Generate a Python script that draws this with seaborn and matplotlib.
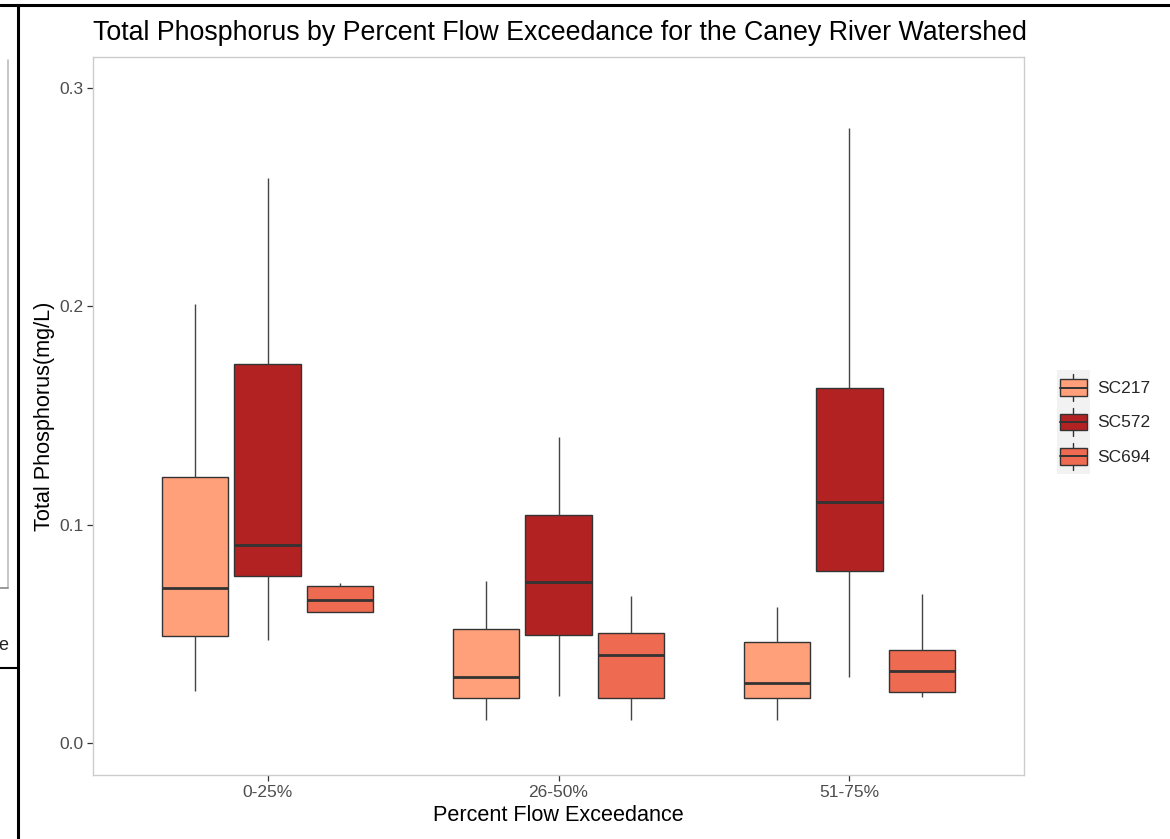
import numpy as np
import pandas as pd
import matplotlib
matplotlib.use('Agg')
import matplotlib.pyplot as plt
import seaborn as sns
from matplotlib.lines import Line2D
from matplotlib.patches import Rectangle, Patch
from matplotlib.legend_handler import HandlerBase

# Categories
flow_classes = ['0-25%', '26-50%', '51-75%']
sites = ['SC217', 'SC572', 'SC694']

# Five-number summaries (whisker low, Q1, median, Q3, whisker high) per flow class
sc217 = [[0.024, 0.049, 0.071, 0.122, 0.201],
         [0.0105, 0.0206, 0.0302, 0.0522, 0.0742],
         [0.0105, 0.0206, 0.0275, 0.0463, 0.0623]]
sc572 = [[0.047, 0.0765, 0.0907, 0.1736, 0.2588],
         [0.0215, 0.0495, 0.0738, 0.1044, 0.1402],
         [0.0302, 0.0788, 0.1104, 0.1626, 0.2817]]
sc694 = [[0.0600, 0.0600, 0.0655, 0.0719, 0.0733],
         [0.0105, 0.0206, 0.0403, 0.0504, 0.0673],
         [0.0210, 0.0234, 0.0330, 0.0426, 0.0683]]

site_colors = ['#FFA07A', '#B22222', '#EE6A50']

# build long-form table
rows = []
for site, vals in zip(sites, [sc217, sc572, sc694]):
    for flow, summary in zip(flow_classes, vals):
        for v in summary:
            rows.append({'Flow': flow, 'Site': site, 'TP': v})
df = pd.DataFrame(rows)

sns.set_style('white')
plt.rcParams['font.family'] = ['Liberation Sans', 'DejaVu Sans']

W, H = 1170, 839
fig = plt.figure(figsize=(W / 100, H / 100), dpi=100)
ax = fig.add_axes([93 / W, 1 - 775 / H, (1024 - 93) / W, (775 - 57) / H])

line_col = '#333333'
sns.boxplot(data=df, x='Flow', y='TP', hue='Site', order=flow_classes, hue_order=sites,
            palette=site_colors, whis=(0, 100), width=0.75, gap=0.09, showcaps=False,
            linecolor=line_col, linewidth=1.0, saturation=1,
            medianprops={'linewidth': 2.0, 'color': line_col},
            whiskerprops={'color': '#444444', 'linewidth': 1.0},
            legend=False, ax=ax)

ax.set_xlim(-0.6, 2.6)
ax.set_ylim(-0.0147, 0.3143)
ax.set_yticks([0.0, 0.1, 0.2, 0.3])
ax.set_yticklabels(['0.0', '0.1', '0.2', '0.3'])
ax.grid(False)
for s in ax.spines.values():
    s.set_color('#CCCCCC')
    s.set_linewidth(1.0)
ax.tick_params(axis='both', which='major', length=4, width=0.9, color='#333333',
               labelcolor='#4D4D4D', labelsize=12.5, pad=3, left=True, bottom=True)

ax.set_xlabel('Percent Flow Exceedance', fontsize=15.6, color='black', labelpad=4)
ax.set_ylabel('Total Phosphorus(mg/L)', fontsize=15.6, color='black', labelpad=3)
ax.set_title('Total Phosphorus by Percent Flow Exceedance for the Caney River Watershed',
             loc='left', fontsize=19.3, color='black', pad=12)


# ggplot-like legend keys: small boxplot glyph on gray background
class BoxKeyHandler(HandlerBase):
    def create_artists(self, legend, orig_handle, xdescent, ydescent, width, height,
                       fontsize, trans):
        x0, y0 = -xdescent, -ydescent
        bg = Rectangle((x0, y0), width, height, facecolor='#F2F2F2',
                       edgecolor='none', transform=trans)
        whisk = Line2D([x0 + width / 2] * 2, [y0 + 0.1 * height, y0 + 0.9 * height],
                       color=line_col, linewidth=1.0, transform=trans)
        box = Rectangle((x0 + 0.1 * width, y0 + 0.26 * height), 0.8 * width, 0.48 * height,
                        facecolor=orig_handle.get_facecolor(), edgecolor=line_col,
                        linewidth=1.0, transform=trans)
        med = Line2D([x0 + 0.1 * width, x0 + 0.9 * width], [y0 + 0.5 * height] * 2,
                     color=line_col, linewidth=1.4, transform=trans)
        return [bg, whisk, box, med]


handles = [Patch(facecolor=c, label=s) for s, c in zip(sites, site_colors)]
leg = fig.legend(handles=handles, labels=sites, loc='center left',
                 bbox_to_anchor=(1057 / W, 1 - 422 / H), frameon=False,
                 fontsize=12.5, handler_map={Patch: BoxKeyHandler()},
                 handlelength=1.9, handleheight=2.67, labelspacing=0.0,
                 handletextpad=0.4, borderpad=0, borderaxespad=0)

# screenshot frame remnants
fig.add_artist(Line2D([0, 1], [1 - 5 / H] * 2, color='black', linewidth=2.2,
                      transform=fig.transFigure))
fig.add_artist(Line2D([18 / W] * 2, [0, 1 - 5 / H], color='black', linewidth=2.2,
                      transform=fig.transFigure))
fig.add_artist(Line2D([0, 18 / W], [1 - 668 / H] * 2, color='black', linewidth=1.5,
                      transform=fig.transFigure))
fig.add_artist(Line2D([8 / W] * 2, [1 - 588 / H, 1 - 60 / H], color='#BBBBBB', linewidth=1.2,
                      transform=fig.transFigure))
fig.add_artist(Line2D([0, 8 / W], [1 - 588 / H] * 2, color='#888888', linewidth=1.2,
                      transform=fig.transFigure))
fig.text(8 / W, 1 - 645 / H, 'e', ha='right', va='center', fontsize=13, color='#222222')

fig.savefig('out.png', dpi=100, facecolor='white')
